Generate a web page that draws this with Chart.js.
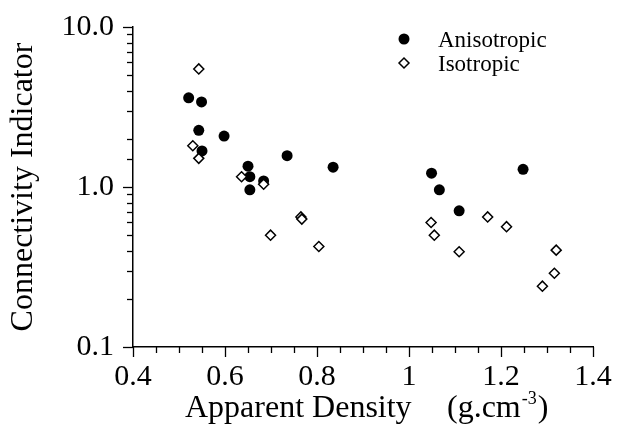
<!DOCTYPE html>
<html>
<head>
<meta charset="utf-8">
<script src="https://cdn.jsdelivr.net/npm/chart.js"></script>
<style>
  html, body { margin: 0; padding: 0; background: #fff; }
  #chartCanvas { display: block; }
</style>
</head>
<body>
<canvas id="chartCanvas" width="618" height="433"></canvas>
<script>
const anisoX = [0.521, 0.549, 0.543, 0.550, 0.598, 0.650, 0.654, 0.654, 0.684, 0.735, 0.835, 1.049, 1.066, 1.109, 1.248];
const anisoY = [3.61, 3.40, 2.26, 1.68, 2.08, 1.35, 1.16, 0.96, 1.09, 1.57, 1.33, 1.22, 0.96, 0.71, 1.29];
const isoX = [0.543, 0.530, 0.543, 0.636, 0.684, 0.765, 0.767, 0.699, 0.804, 1.048, 1.055, 1.109, 1.171, 1.212, 1.320, 1.316, 1.290];
const isoY = [5.47, 1.81, 1.51, 1.16, 1.04, 0.65, 0.63, 0.50, 0.425, 0.60, 0.50, 0.394, 0.65, 0.565, 0.403, 0.289, 0.240];

const seriesLabels = ['Anisotropic', 'Isotropic'];
const xTickLabels = ['0.4', '0.6', '0.8', '1', '1.2', '1.4'];
const yTickLabels = ['0.1', '1.0', '10.0'];
const xTitle = 'Apparent Density';
const xUnit = '(g.cm';
const xUnitSup = '-3';
const yTitle = 'Connectivity Indicator';

const FONT = "'Liberation Serif', 'Times New Roman', serif";

const toPoints = (xs, ys) => xs.map((x, i) => ({ x: x, y: ys[i] }));

// Achsenstriche selbst zeichnen (Haupt- und Nebenstriche unterschiedlich lang)
const tickMarks = {
    id: 'tickMarks',
    afterDraw(chart) {
        const ctx = chart.ctx;
        const xs = chart.scales.x;
        const ys = chart.scales.y;
        ctx.save();
        ctx.strokeStyle = '#000';
        ctx.lineWidth = 1.3;
        xs.ticks.forEach(t => {
            const px = Math.round(xs.getPixelForValue(t.value)) + 0.5;
            const major = Math.round(t.value * 100) % 20 === 0;
            ctx.beginPath();
            ctx.moveTo(px, xs.top);
            ctx.lineTo(px, xs.top + (major ? 10 : 6));
            ctx.stroke();
        });
        ys.ticks.forEach(t => {
            const py = Math.round(ys.getPixelForValue(t.value)) + 0.5;
            const lg = Math.log10(t.value);
            const major = Math.abs(lg - Math.round(lg)) < 1e-6;
            ctx.beginPath();
            ctx.moveTo(ys.right, py);
            ctx.lineTo(ys.right - (major ? 10 : 6), py);
            ctx.stroke();
        });
        ctx.restore();
    }
};

// X-Achsentitel mit Hochstellung
const xTitlePlugin = {
    id: 'xTitlePlugin',
    afterDraw(chart) {
        const ctx = chart.ctx;
        ctx.save();
        ctx.fillStyle = '#000';
        ctx.textBaseline = 'alphabetic';
        ctx.textAlign = 'left';
        ctx.font = '32px ' + FONT;
        ctx.fillText(xTitle, 185, 417);
        ctx.fillText(xUnit, 447, 417);
        let x = 447 + ctx.measureText(xUnit).width;
        ctx.font = '18px ' + FONT;
        ctx.fillText(xUnitSup, x + 1, 404);
        x += ctx.measureText(xUnitSup).width + 2;
        ctx.font = '32px ' + FONT;
        ctx.fillText(')', x, 417);
        ctx.restore();
    }
};

// Legende im Diagrammbereich
const legendPlugin = {
    id: 'legendPlugin',
    afterDraw(chart) {
        const ctx = chart.ctx;
        ctx.save();
        // gefüllter Kreis
        ctx.fillStyle = '#000';
        ctx.beginPath();
        ctx.arc(404, 39, 5.5, 0, Math.PI * 2);
        ctx.fill();
        // Raute
        ctx.strokeStyle = '#000';
        ctx.lineWidth = 1.5;
        ctx.fillStyle = '#fff';
        ctx.beginPath();
        ctx.moveTo(399, 63);
        ctx.lineTo(404, 58);
        ctx.lineTo(409, 63);
        ctx.lineTo(404, 68);
        ctx.closePath();
        ctx.fill();
        ctx.stroke();
        ctx.fillStyle = '#000';
        ctx.font = '23px ' + FONT;
        ctx.textBaseline = 'alphabetic';
        ctx.fillText(seriesLabels[0], 438, 47);
        ctx.fillText(seriesLabels[1], 438, 71);
        ctx.restore();
    }
};

const ctx = document.getElementById('chartCanvas').getContext('2d');
new Chart(ctx, {
    type: 'scatter',
    data: {
        datasets: [
            {
                label: seriesLabels[0],
                data: toPoints(anisoX, anisoY),
                pointStyle: 'circle',
                pointRadius: 5.5,
                backgroundColor: '#000',
                borderColor: '#000',
                borderWidth: 0,
                order: 1
            },
            {
                label: seriesLabels[1],
                data: toPoints(isoX, isoY),
                pointStyle: 'rectRot',
                pointRadius: 5,
                backgroundColor: '#fff',
                borderColor: '#000',
                borderWidth: 1.5,
                order: 0
            }
        ]
    },
    options: {
        responsive: false,
        animation: false,
        layout: { padding: { left: 0, right: 25, top: 24, bottom: 0 } },
        plugins: {
            legend: { display: false },
            tooltip: { enabled: false }
        },
        scales: {
            x: {
                type: 'linear',
                min: 0.4,
                max: 1.4,
                afterFit(scale) { scale.height = 86; },
                border: { display: true, color: '#000', width: 1.5 },
                grid: { drawOnChartArea: false, drawTicks: true, tickLength: 10, tickColor: 'rgba(0,0,0,0)' },
                ticks: {
                    stepSize: 0.05,
                    autoSkip: false,
                    maxRotation: 0,
                    padding: 2,
                    color: '#000',
                    font: { family: FONT, size: 30 },
                    callback(v) {
                        const s = String(Math.round(v * 10) / 10);
                        return Math.round(v * 100) % 20 === 0 && xTickLabels.includes(s) ? s : '';
                    }
                }
            },
            y: {
                type: 'logarithmic',
                min: 0.1,
                max: 10,
                afterFit(scale) { scale.width = 133; },
                border: { display: true, color: '#000', width: 1.5 },
                grid: { drawOnChartArea: false, drawTicks: true, tickLength: 10, tickColor: 'rgba(0,0,0,0)' },
                title: {
                    display: true,
                    text: yTitle,
                    color: '#000',
                    font: { family: FONT, size: 32 },
                    padding: { top: 4, bottom: 0 }
                },
                ticks: {
                    autoSkip: false,
                    padding: 9,
                    color: '#000',
                    font: { family: FONT, size: 30 },
                    callback(v) {
                        const lg = Math.log10(v);
                        if (Math.abs(lg - Math.round(lg)) > 1e-6) return '';
                        return yTickLabels[Math.round(lg) + 1];
                    }
                }
            }
        }
    },
    plugins: [tickMarks, xTitlePlugin, legendPlugin]
});
</script>
</body>
</html>
